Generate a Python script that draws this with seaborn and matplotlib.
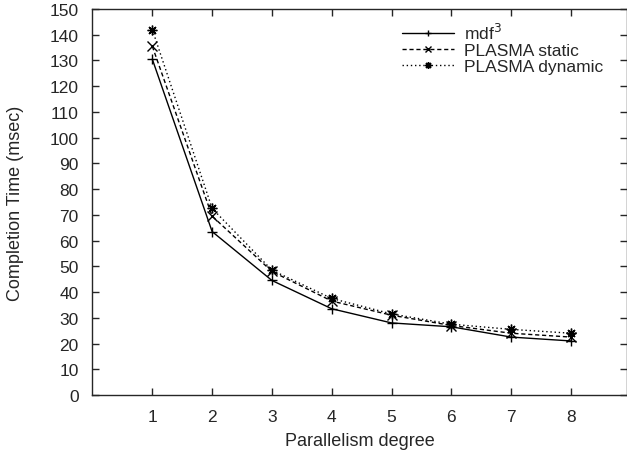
import pandas as pd
import matplotlib
matplotlib.use("Agg")
import matplotlib.pyplot as plt
import seaborn as sns

# dados
graus = [1, 2, 3, 4, 5, 6, 7, 8]
mdf3 = [130.5, 63.5, 44.5, 33.5, 28.0, 26.5, 22.5, 21.0]
plasma_static = [135.5, 69.5, 48.0, 36.5, 31.0, 27.0, 24.0, 22.5]
plasma_dynamic = [142.0, 72.5, 48.5, 37.5, 31.5, 27.5, 25.5, 24.0]
series_nomes = ["mdf$^3$", "PLASMA static", "PLASMA dynamic"]

df = pd.DataFrame({
    "grau": graus * 3,
    "tempo": mdf3 + plasma_static + plasma_dynamic,
    "serie": [series_nomes[0]] * 8 + [series_nomes[1]] * 8 + [series_nomes[2]] * 8,
})

sns.set_style("ticks")
plt.rcParams["font.family"] = ["Liberation Sans", "DejaVu Sans"]
plt.rcParams["font.size"] = 12

fig = plt.figure(figsize=(6.27, 4.56), dpi=100)
ax = fig.add_axes([0.1475, 0.1316, 0.852, 0.8465])

sns.lineplot(
    data=df, x="grau", y="tempo", hue="serie", style="serie",
    palette=["black"] * 3,
    markers=["+", "x", (8, 2, 0)],
    dashes=[(None, None), (3, 2), (1, 2)],
    markersize=7, markeredgewidth=1.0, markeredgecolor="black", linewidth=1.0,
    ax=ax,
)

ax.set_xlim(0, 8.93)
ax.set_ylim(0, 150)
ax.set_xticks(graus)
ax.set_yticks(range(0, 151, 10))
ax.tick_params(direction="in", top=True, right=True, length=5, width=1, labelsize=12.5)
ax.tick_params(axis="y", pad=10)
ax.tick_params(axis="x", pad=10)
for s in ax.spines.values():
    s.set_linewidth(1.0)

ax.set_xlabel("Parallelism degree", fontsize=13, labelpad=6)
ax.set_ylabel("Completion Time (msec)", fontsize=13, labelpad=18)

leg = ax.legend(loc="upper left", frameon=False, fontsize=12.5, handlelength=3.0,
                handletextpad=0.6, labelspacing=0.05, borderaxespad=0.0,
                bbox_to_anchor=(0.566, 0.985))
for h in leg.legend_handles:
    h.set_markeredgecolor("black")
    h.set_markersize(5)

fig.savefig("out.png", dpi=100)
